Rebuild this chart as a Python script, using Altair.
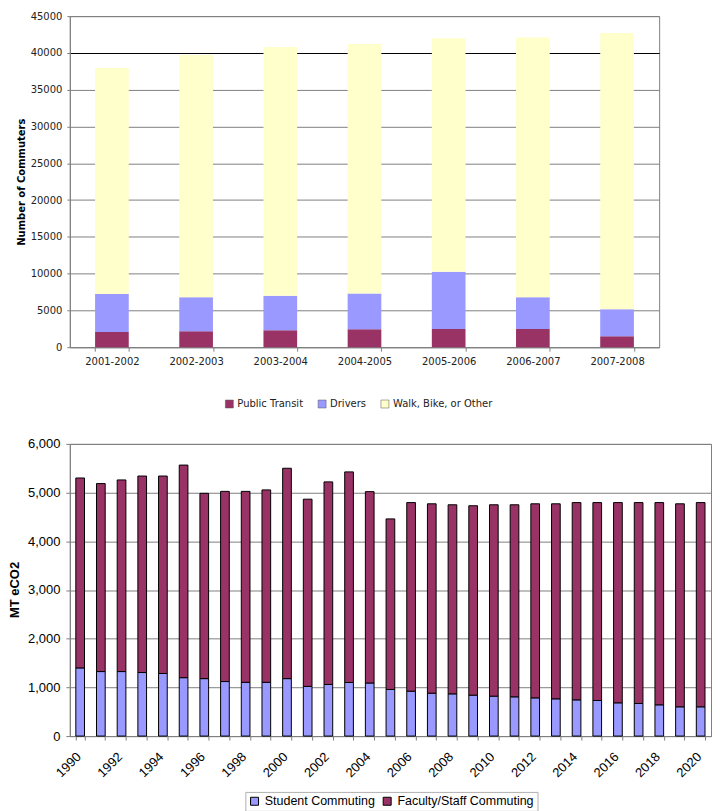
import altair as alt
import pandas as pd

# ---------------- Top chart data ----------------
periods = ["2001-2002", "2002-2003", "2003-2004", "2004-2005", "2005-2006", "2006-2007", "2007-2008"]
modes = ["Public Transit", "Drivers", "Walk, Bike, or Other"]
public_transit = [2080, 2170, 2300, 2440, 2480, 2480, 1490]
drivers = [5150, 4610, 4700, 4840, 7780, 4300, 3660]
walk_bike_other = [30720, 32920, 33800, 33920, 31740, 35320, 37550]
top_colors = ["#993366", "#9999FF", "#FFFFCC"]
top_ticks = [0, 5000, 10000, 15000, 20000, 25000, 30000, 35000, 40000, 45000]

# ---------------- Bottom chart data ----------------
years = [str(y) for y in range(1990, 2021)]
groups = ["Student Commuting", "Faculty/Staff Commuting"]
student = [1400, 1325, 1325, 1305, 1285, 1200, 1180, 1120, 1105, 1105, 1180, 1020, 1060, 1100, 1090,
           957, 922, 881, 867, 840, 820, 806, 785, 765, 744, 731, 683, 670, 642, 601, 601]
faculty = [3900, 3860, 3935, 4035, 4055, 4365, 3805, 3905, 3920, 3950, 4320, 3845, 4160, 4325, 3930,
           3503, 3873, 3889, 3883, 3890, 3930, 3944, 3985, 4005, 4051, 4064, 4112, 4125, 4153, 4169, 4194]
bottom_colors = ["#9999FF", "#993366"]
bottom_ticks = [0, 1000, 2000, 3000, 4000, 5000, 6000]

rows = []
for i, p in enumerate(periods):
    for k, (m, vals) in enumerate(zip(modes, [public_transit, drivers, walk_bike_other])):
        rows.append({"period": p, "mode": m, "value": vals[i], "rank": k})
df_top = pd.DataFrame(rows)

rows = []
for i, y in enumerate(years):
    for k, (g, vals) in enumerate(zip(groups, [student, faculty])):
        rows.append({"year": y, "group": g, "value": vals[i], "rank": k})
df_bot = pd.DataFrame(rows)

TF = "DejaVu Sans"
BF = "Liberation Sans"
GRID = "#808080"

top = alt.Chart(df_top).mark_bar().encode(
    x=alt.X("period:N", sort=periods,
            scale=alt.Scale(paddingInner=0.6, paddingOuter=0.3),
            axis=alt.Axis(title=None, labelAngle=0, tickBand="extent", tickSize=4,
                          labelPadding=5, labelFont=TF, labelFontSize=10, labelColor="#222",
                          domainColor=GRID, tickColor=GRID)),
    y=alt.Y("value:Q", stack="zero",
            scale=alt.Scale(domain=[0, 45000], nice=False),
            axis=alt.Axis(values=top_ticks, format="d", title="Number of Commuters",
                          titleFont=TF, titleFontSize=10, titleFontWeight="bold", titleColor="#000",
                          titleX=-43, titleY=166,
                          labelFont=TF, labelFontSize=10, labelColor="#222", labelPadding=5,
                          tickSize=3, tickColor=GRID, domainColor=GRID,
                          gridColor={"condition": {"test": "datum.value == 40000", "value": "#000000"},
                                     "value": GRID})),
    color=alt.Color("mode:N",
                    scale=alt.Scale(domain=modes, range=top_colors),
                    legend=alt.Legend(title=None, orient="none", direction="horizontal",
                                      legendX=155, legendY=384, symbolType="square", symbolSize=64,
                                      symbolStrokeColor="#555", symbolStrokeWidth=0.5,
                                      labelFont=TF, labelFontSize=10, labelColor="#222",
                                      labelOffset=3, columnPadding=14, padding=0)),
    order=alt.Order("rank:Q"),
).properties(width=591, height=332)

bottom = alt.Chart(df_bot).mark_bar(stroke="#000000", strokeWidth=1).encode(
    x=alt.X("year:N", sort=years,
            scale=alt.Scale(paddingInner=0.58, paddingOuter=0.29),
            axis=alt.Axis(title=None, labelAngle=315, tickBand="extent", tickSize=4,
                          labelExpr="toNumber(datum.value) % 2 == 0 ? datum.label : ''",
                          labelPadding=10, labelOffset=-6, labelFont=BF, labelFontSize=13,
                          labelColor="#000", domainColor=GRID, tickColor=GRID)),
    y=alt.Y("value:Q", stack="zero",
            scale=alt.Scale(domain=[0, 6000], nice=False),
            axis=alt.Axis(values=bottom_ticks, format=",d", title="MT eCO2",
                          titleFont=BF, titleFontSize=13, titleFontWeight="bold", titleColor="#000",
                          titleX=-48, titleY=146,
                          labelFont=BF, labelFontSize=13, labelColor="#000", labelPadding=6,
                          tickSize=4, tickColor=GRID, domainColor=GRID, gridColor=GRID)),
    color=alt.Color("group:N",
                    scale=alt.Scale(domain=groups, range=bottom_colors),
                    legend=alt.Legend(title=None, orient="none", direction="horizontal",
                                      legendX=176, legendY=349, symbolType="square", symbolSize=64,
                                      symbolStrokeColor="#000", symbolStrokeWidth=1,
                                      labelFont=BF, labelFontSize=12.5, labelColor="#000",
                                      labelOffset=4, columnPadding=6, padding=3,
                                      strokeColor="#b0b0b0", fillColor="#ffffff")),
    order=alt.Order("rank:Q"),
).properties(width=643, height=293)

chart = alt.vconcat(top, bottom, spacing=97, bounds="flush").resolve_scale(
    color="independent"
).properties(
    padding={"left": 0, "top": 1, "right": 0, "bottom": 0},
    background="#ffffff",
).configure_view(stroke=GRID)

chart.save("out.html", embed_options={"renderer": "svg", "actions": False})
